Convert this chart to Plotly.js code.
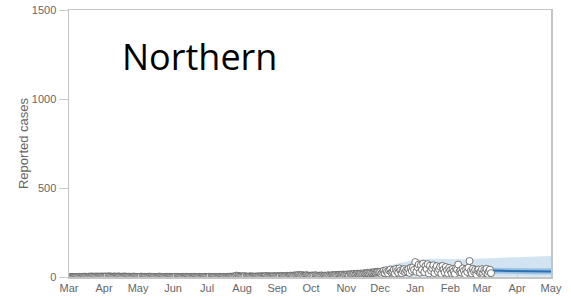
<!DOCTYPE html>
<html>
<head>
<meta charset="utf-8">
<script src="https://cdn.plot.ly/plotly-3.0.1.min.js"></script>
<style>html,body{margin:0;padding:0;background:#fff;}#chart{width:571px;height:298px;}</style>
</head>
<body>
<div id="chart"></div>
<script>
// Daily reported cases, starting 2020-03-01
const startDate = '2020-03-01';
const casesMar2020 = [0,0,0,0,0,0,0,0,0,1,0,0,1,0,2,1,0,1,2,1,3,2,1,2,3,1,2,2,1,3,2];
const casesApr2020 = [2,3,1,2,4,2,3,1,2,3,2,1,2,3,2,1,2,1,3,2,1,1,2,1,0,1,2,1,1,0];
const casesMay2020 = [1,0,1,2,1,0,1,1,0,1,2,0,1,0,1,1,0,0,1,2,1,0,0,1,0,1,0,0,1,0,0];
const casesJun2020 = [0,1,0,0,1,0,0,0,1,0,0,0,1,0,0,1,0,0,0,1,0,0,0,1,0,0,0,0,1,0];
const casesJul2020 = [0,0,1,0,0,0,0,1,0,0,0,1,0,0,0,1,0,0,1,0,1,2,1,3,2,5,8,4,6,3,2];
const casesAug2020 = [4,3,5,2,3,1,2,4,3,2,3,1,2,3,2,4,3,5,2,3,4,6,3,5,4,3,2,4,5,3,4];
const casesSep2020 = [5,3,4,6,4,5,3,6,7,5,4,6,8,5,7,9,6,10,8,12,9,7,11,8,6,9,10,7,8,6];
const casesOct2020 = [7,9,6,8,10,7,5,8,6,9,7,5,8,6,7,10,8,6,9,11,8,10,12,9,11,13,10,12,14,11,13];
const casesNov2020 = [12,15,11,14,16,13,15,18,14,16,19,15,17,20,16,18,22,19,21,24,20,23,26,22,25,28,24,27,30,26];
const casesDec2020 = [28,18,26,35,22,38,30,20,36,42,25,31,40,19,45,33,24,48,36,21,35,44,27,38,30,46,23,52,34,55,40];
const casesJan2021 = [84,30,55,70,24,66,40,75,28,62,45,72,20,63,35,50,66,22,48,61,30,44,58,18,62,42,26,56,38,20,51];
const casesFeb2021 = [38,22,45,32,18,50,42,70,28,36,24,48,35,16,44,28,52,90,33,20,46,30,40,15,36,42,24,30];
const casesMar2021 = [44,20,38,27,46,18,30,41,22];

// Model band (light) over the later period
const bandDates = ['2020-10-15','2020-11-01','2020-11-15','2020-12-01','2020-12-15','2021-01-01','2021-01-15','2021-02-01','2021-02-15','2021-03-01','2021-03-15','2021-04-01','2021-04-15','2021-05-01'];
const bandUpper = [5,15,30,50,75,95,103,100,100,104,108,112,115,118];
const bandLower = [0,0,0,1,2,3,3,3,3,3,3,2,2,2];

// Forecast
const fcDates = ['2021-03-09','2021-03-20','2021-04-01','2021-04-15','2021-05-01'];
const fcMedian = [36,34,33,32,31];
const fcUpper = [52,50,50,49,49];
const fcLower = [20,18,17,16,15];

const titleText = 'Northern';
const yTitle = 'Reported cases';

const cases = [].concat(casesMar2020,casesApr2020,casesMay2020,casesJun2020,casesJul2020,casesAug2020,casesSep2020,casesOct2020,casesNov2020,casesDec2020,casesJan2021,casesFeb2021,casesMar2021);
const dates = cases.map((_, i) => {
  const d = new Date(startDate + 'T00:00:00Z');
  d.setUTCDate(d.getUTCDate() + i);
  return d.toISOString().slice(0,10);
});

const traces = [
  {x: bandDates, y: bandLower, type:'scatter', mode:'lines', line:{width:0}, hoverinfo:'skip', showlegend:false},
  {x: bandDates, y: bandUpper, type:'scatter', mode:'lines', line:{width:0}, fill:'tonexty', fillcolor:'rgba(173,206,230,0.55)', hoverinfo:'skip', showlegend:false},
  {x: fcDates, y: fcLower, type:'scatter', mode:'lines', line:{width:0}, hoverinfo:'skip', showlegend:false},
  {x: fcDates, y: fcUpper, type:'scatter', mode:'lines', line:{width:0}, fill:'tonexty', fillcolor:'rgba(120,170,215,0.6)', hoverinfo:'skip', showlegend:false},
  {x: fcDates, y: fcMedian, type:'scatter', mode:'lines', line:{color:'#2b6fb5', width:2}, showlegend:false},
  {x: dates, y: cases, type:'scatter', mode:'lines+markers', line:{color:'#222', width:0.8},
   marker:{size:7, color:'#fff', line:{color:'#555', width:0.8}}, showlegend:false}
];

const layout = {
  width:571, height:298,
  margin:{l:69, r:20, t:10, b:21},
  paper_bgcolor:'#fff', plot_bgcolor:'#fff',
  font:{family:'Liberation Sans, Arial, sans-serif', size:11, color:'#666666'},
  xaxis:{type:'date', range:['2020-03-01','2021-05-01'], dtick:'M1', tickformat:'%b', color:'#666666',
    showgrid:false, zeroline:false, showline:true, linecolor:'#c4c4c4', linewidth:1.5, mirror:true,
    ticks:'inside', ticklen:3, tickcolor:'#ccc', tickfont:{size:11, color:'#666666'}},
  yaxis:{range:[0,1500], tickvals:[0,500,1000,1500], showgrid:false, zeroline:false, color:'#666666',
    showline:true, linecolor:'#c4c4c4', linewidth:1.5, mirror:true,
    ticks:'outside', ticklen:9, tickcolor:'#ccc', tickfont:{size:11, color:'#666666'},
    title:{text:yTitle, font:{size:13, color:'#666666'}, standoff:0}},
  annotations:[{text:titleText, xref:'paper', yref:'paper', x:0.27, y:0.825, xanchor:'center', yanchor:'middle',
    showarrow:false, font:{family:'Open Sans, Noto Sans, sans-serif', size:36, color:'#000'}}]
};

Plotly.newPlot('chart', traces, layout, {staticPlot:true, displayModeBar:false});
</script>
</body>
</html>
